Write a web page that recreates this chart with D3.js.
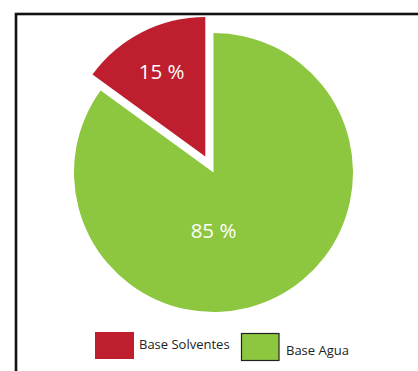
<!DOCTYPE html>
<html><head><meta charset="utf-8">
<script src="https://cdn.jsdelivr.net/npm/d3@7"></script>
<style>body{margin:0;background:#fff}svg{display:block}</style>
</head><body>
<svg id="c" width="418" height="371"></svg>
<script>
const categories = ["Base Solventes", "Base Agua"];
const values = [15, 85];
const labels = ["15 %", "85 %"];
const colors = ["#BE1E2D", "#8DC63F"];

const svg = d3.select("#c");
// frame
svg.append("rect").attr("x", 16).attr("y", 14).attr("width", 420).attr("height", 380)
  .attr("fill", "none").attr("stroke", "#111").attr("stroke-width", 2.6);

const cx = 213.5, cy = 172.5, R = 139.5, explode = 18;
const data = values.map((v, i) => ({v, i}));
// red slice sits just counterclockwise of 12 o'clock
const arcs = d3.pie().sort(null).value(d => d.v).startAngle(0).endAngle(2*Math.PI)([data[1], data[0]]);
const arc = d3.arc().innerRadius(0).outerRadius(R);
const g = svg.append("g").attr("transform", `translate(${cx},${cy})`);

arcs.forEach(a => {
  const i = a.data.i;
  let dx = 0, dy = 0;
  if (i === 0) {
    const mid = (a.startAngle + a.endAngle) / 2;
    dx = Math.sin(mid) * explode; dy = -Math.cos(mid) * explode;
  }
  const sg = g.append("g").attr("transform", `translate(${dx},${dy})`);
  sg.append("path").attr("d", arc(a)).attr("fill", colors[i]);
  let lx, ly;
  if (i === 0) {
    const c = d3.arc().innerRadius(0).outerRadius(R * 1.38).centroid(a);
    lx = c[0]; ly = c[1];
  } else { lx = 0; ly = R * 0.41; }
  sg.append("text").attr("x", lx).attr("y", ly).attr("text-anchor", "middle")
    .attr("dominant-baseline", "central")
    .attr("font-family", "Open Sans, sans-serif").attr("font-size", 20.5)
    .attr("fill", "#fff").text(labels[i]);
});

// legend
const leg = [
  {x: 95, y: 332, w: 39, h: 27, tx: 139, ty: 349, stroke: null},
  {x: 241.5, y: 333.5, w: 37.5, h: 27, tx: 286, ty: 355, stroke: "#222"}
];
categories.forEach((c, i) => {
  const L = leg[i];
  svg.append("rect").attr("x", L.x).attr("y", L.y).attr("width", L.w).attr("height", L.h)
    .attr("fill", colors[i]).attr("stroke", L.stroke || "none").attr("stroke-width", 1.2);
  svg.append("text").attr("x", L.tx).attr("y", L.ty)
    .attr("font-family", "Open Sans, sans-serif").attr("font-size", 13)
    .attr("fill", "#222").text(c);
});
</script>
</body></html>
